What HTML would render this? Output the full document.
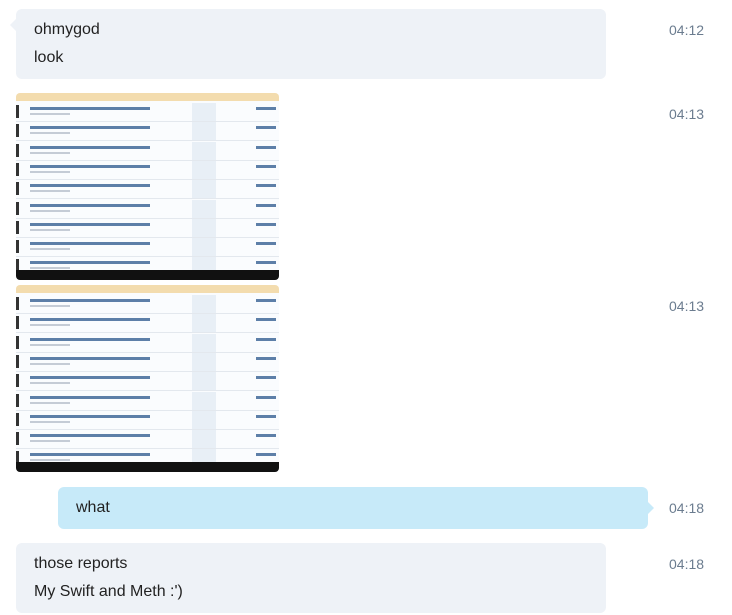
<!DOCTYPE html>
<html><head><style>
body{margin:0;width:732px;height:615px;background:#fff;font-family:"Liberation Sans",sans-serif;position:relative;overflow:hidden}
.b{position:absolute;background:#eef2f7;border-radius:6px;color:#222;font-size:16px}
.b div{position:absolute;left:18px}
.b .tl{left:-6px;top:10px;width:0;height:0;border-top:6px solid transparent;border-bottom:6px solid transparent;border-right:6px solid #eef2f7}
.b .tr{left:auto;right:-6px;top:15px;width:0;height:0;border-top:6px solid transparent;border-bottom:6px solid transparent;border-left:6px solid #c7eaf9}
.t{position:absolute;left:669px;font-size:14px;color:#6b7c8f}
.img{position:absolute;left:16px;width:263px;height:187px;background:#fafcfe;border-radius:4px;overflow:hidden}
.img .hd{position:absolute;left:0;right:0;top:0;height:8px;background:#f3dcae}
.img .bar{position:absolute;left:0;right:0;bottom:0;height:10px;background:#111}
.row{position:absolute;left:0;right:0;height:18px;border-bottom:1px solid #e3e8ee}
.row .a{position:absolute;left:14px;top:4px;width:120px;height:3px;background:#5d7fa8}
.row .c{position:absolute;left:14px;top:10px;width:40px;height:2px;background:#c5ccd6}
.row .r{position:absolute;left:176px;top:0;width:24px;height:18px;background:#e8eff6}
.row .d{position:absolute;left:240px;top:4px;width:20px;height:3px;background:#5d7fa8}
.row .e{position:absolute;left:0;top:2px;width:3px;height:13px;background:#333}
</style></head><body>
<div class="b" style="left:16px;top:9px;width:590px;height:70px"><div class="tl"></div><div style="top:12px">ohmygod</div><div style="top:40px">look</div></div>
<div class="t" style="top:22px">04:12</div>
<div class="img" style="top:93px" id="i1"></div>
<div class="t" style="top:106px">04:13</div>
<div class="img" style="top:285px" id="i2"></div>
<div class="t" style="top:298px">04:13</div>
<div class="b" style="left:58px;top:487px;width:590px;height:42px;background:#c7eaf9"><div class="tr"></div><div style="top:12px">what</div></div>
<div class="t" style="top:500px">04:18</div>
<div class="b" style="left:16px;top:543px;width:590px;height:70px"><div style="top:12px">those reports</div><div style="top:40px">My Swift and Meth :')</div></div>
<div class="t" style="top:556px">04:18</div>
<script>
['i1','i2'].forEach(function(id,k){var el=document.getElementById(id);var h='<div class="hd"></div>';for(var i=0;i<9;i++){h+='<div class="row" style="top:'+(10+i*19.3)+'px"><div class="e"></div><div class="a"></div><div class="c"></div><div class="r"></div><div class="d"></div></div>';}h+='<div class="bar"></div>';el.innerHTML=h;});
</script>
</body></html>
